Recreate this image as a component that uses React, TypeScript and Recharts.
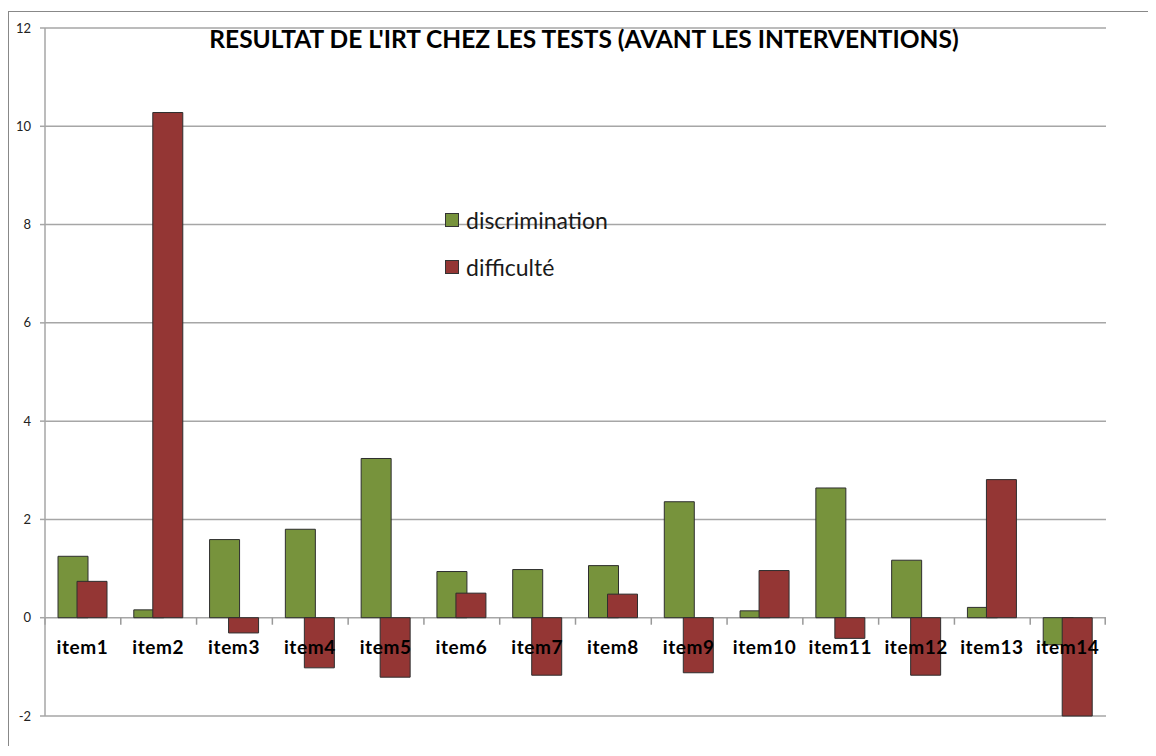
import { Bar, BarChart, CartesianGrid, LabelList, Legend, XAxis, YAxis } from 'recharts'

const items = ['item1', 'item2', 'item3', 'item4', 'item5', 'item6', 'item7', 'item8', 'item9', 'item10', 'item11', 'item12', 'item13', 'item14']
const discrimination = [1.25, 0.16, 1.59, 1.8, 3.24, 0.94, 0.98, 1.06, 2.36, 0.14, 2.64, 1.17, 0.21, -0.55]
const difficulte = [0.74, 10.28, -0.31, -1.02, -1.21, 0.5, -1.17, 0.48, -1.12, 0.96, -0.42, -1.17, 2.81, -2.0]
const yTicks = [-2, 0, 2, 4, 6, 8, 10, 12]

const series = [
  { key: 'discrimination', name: 'discrimination', color: '#77933c' },
  { key: 'difficulte', name: 'difficulté', color: '#943634' },
]

const data = items.map((item, i) => ({
  item,
  discrimination: discrimination[i],
  difficulte: difficulte[i],
  zero: 0,
}))

const font = 'Lato, "Open Sans", sans-serif'

// tick marks between categories, sitting on the zero line
function CategoryTicks(props: any) {
  const { x, y, width, index } = props
  return (
    <g>
      <line x1={x} x2={x} y1={y} y2={y + 7} stroke="#999" strokeWidth={1.5} />
      {index === items.length - 1 && (
        <line x1={x + width} x2={x + width} y1={y} y2={y + 7} stroke="#999" strokeWidth={1.5} />
      )}
    </g>
  )
}

function LegendBox() {
  return (
    <div style={{ fontFamily: font, fontSize: 23, color: '#1a1a1a' }}>
      {series.map((s) => (
        <div key={s.key} style={{ display: 'flex', alignItems: 'center', height: 47 }}>
          <span
            style={{
              display: 'inline-block',
              width: 12,
              height: 12,
              background: s.color,
              border: '1px solid #333',
              marginRight: 7,
            }}
          />
          {s.name}
        </div>
      ))}
    </div>
  )
}

export default function App() {
  return (
    <div
      style={{
        position: 'relative',
        boxSizing: 'border-box',
        width: 1140,
        height: 735,
        marginTop: 3,
        borderTop: '1px solid #888',
        borderLeft: '1px solid #888',
        background: '#fff',
      }}
    >
      <div
        style={{
          position: 'absolute',
          left: 575,
          top: 15,
          transform: 'translateX(-50%)',
          whiteSpace: 'nowrap',
          fontFamily: font,
          fontWeight: 700,
          fontSize: 24.5,
          lineHeight: 1,
          color: '#000',
          zIndex: 2,
        }}
      >
        RESULTAT DE L'IRT CHEZ LES TESTS (AVANT LES INTERVENTIONS)
      </div>
      <BarChart
        width={1139}
        height={734}
        data={data}
        margin={{ top: 16, right: 42, bottom: 30, left: 0 }}
        barGap={-11}
      >
        <CartesianGrid vertical={false} stroke="#a6a6a6" strokeWidth={1.5} />
        <XAxis dataKey="item" hide />
        <XAxis dataKey="item" xAxisId="lab" hide />
        <YAxis
          domain={[-2, 12]}
          ticks={yTicks}
          width={36}
          tickSize={5}
          tickMargin={9}
          axisLine={{ stroke: '#a6a6a6', strokeWidth: 1.5 }}
          tickLine={{ stroke: '#a6a6a6', strokeWidth: 1.5 }}
          tick={{ fill: '#222', fontSize: 13, fontFamily: font }}
        />
        <Legend
          layout="vertical"
          align="center"
          verticalAlign="middle"
          content={LegendBox}
          wrapperStyle={{ left: 436, top: 184, width: 'auto' }}
        />
        {series.map((s) => (
          <Bar
            key={s.key}
            dataKey={s.key}
            name={s.name}
            fill={s.color}
            stroke="#2e2e2e"
            strokeWidth={1}
            barSize={30}
            isAnimationActive={false}
          />
        ))}
        <Bar
          dataKey="zero"
          xAxisId="lab"
          barSize={75}
          fill="none"
          legendType="none"
          shape={CategoryTicks}
          isAnimationActive={false}
        >
          <LabelList
            dataKey="item"
            position="bottom"
            offset={23}
            fill="#000"
            fontSize={19}
            fontWeight={700}
            fontFamily={font}
            letterSpacing={0.6}
          />
        </Bar>
      </BarChart>
    </div>
  )
}
